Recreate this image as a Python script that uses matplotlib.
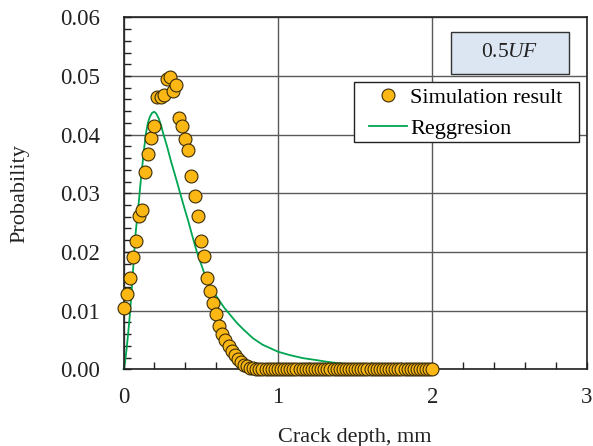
import matplotlib
matplotlib.use("Agg")
import matplotlib.pyplot as plt
from matplotlib.ticker import MultipleLocator, FixedLocator
from matplotlib.patches import Rectangle
from matplotlib.lines import Line2D

plt.rcParams['font.family'] = ['Liberation Serif', 'DejaVu Serif']
plt.rcParams['mathtext.fontset'] = 'custom'
plt.rcParams['mathtext.rm'] = 'Liberation Serif'
plt.rcParams['mathtext.it'] = 'Liberation Serif:italic'

# Simulation result: crack depth (mm) and probability
sim_x = [round(0.02 * i, 2) for i in range(101)]
sim_y = [0.0104, 0.0129, 0.0155, 0.0191, 0.0218, 0.0262, 0.0272, 0.0336, 0.0367, 0.0395,
         0.0415, 0.0464, 0.0464, 0.0468, 0.0495, 0.0499, 0.0474, 0.0485, 0.0429, 0.0415,
         0.0393, 0.0373, 0.0330, 0.0296, 0.0262, 0.0219, 0.0193, 0.0156, 0.0134, 0.0113,
         0.0094, 0.0074, 0.0061, 0.0050, 0.0039, 0.0031, 0.0024, 0.0018, 0.0012, 0.0008,
         0.0005, 0.0003, 0.0002, 0.0001, 0.0001] + [0.0] * 56

# Regression curve
reg_x = [0, 0.01, 0.02, 0.03, 0.04, 0.048, 0.056, 0.063, 0.07, 0.078, 0.089, 0.1, 0.11,
         0.121, 0.133, 0.145, 0.158, 0.17, 0.185, 0.198, 0.212, 0.229, 0.243, 0.257, 0.282,
         0.307, 0.337, 0.367, 0.393, 0.42, 0.447, 0.475, 0.507, 0.539, 0.58, 0.623, 0.655,
         0.69, 0.731, 0.776, 0.838, 0.9, 1.0, 1.08, 1.162, 1.24, 1.313, 1.4, 1.5, 1.6,
         1.7, 1.85, 2.0]
reg_y = [0, 0.0012, 0.0035, 0.0061, 0.0090, 0.0118, 0.0147, 0.0174, 0.0202, 0.0231, 0.0260,
         0.0288, 0.0317, 0.0345, 0.0375, 0.0402, 0.0420, 0.0430, 0.0437, 0.0439, 0.0436,
         0.0427, 0.0416, 0.0402, 0.0380, 0.0355, 0.0328, 0.0300, 0.0276, 0.0252, 0.0226,
         0.0200, 0.0176, 0.0152, 0.0133, 0.0116, 0.0104, 0.0093, 0.0080, 0.0068, 0.0053,
         0.0042, 0.0030, 0.0024, 0.0019, 0.0016, 0.0013, 0.0010, 0.0008, 0.0006, 0.0005,
         0.0004, 0.0003]

x_ticks = [0, 1, 2, 3]
x_tick_labels = ["0", "1", "2", "3"]
y_ticks = [0.00, 0.01, 0.02, 0.03, 0.04, 0.05, 0.06]
y_tick_labels = ["0.00", "0.01", "0.02", "0.03", "0.04", "0.05", "0.06"]

MFC = '#FBB714'
MEC = '#3A2C05'
LC = '#00A551'

fig = plt.figure(figsize=(5.93, 4.46), dpi=100)
ax = fig.add_axes([0.2083, 0.172, 0.7811, 0.7892])

ax.plot(reg_x, reg_y, color=LC, lw=1.3, zorder=2, clip_on=False)
ax.plot(sim_x, sim_y, linestyle='none', marker='o', markersize=9.3,
        markerfacecolor=MFC, markeredgecolor=MEC, markeredgewidth=0.8,
        zorder=3, clip_on=False)

ax.set_xlim(0, 3)
ax.set_ylim(0, 0.06)
ax.xaxis.set_major_locator(FixedLocator(x_ticks))
ax.set_xticklabels(x_tick_labels)
ax.yaxis.set_major_locator(FixedLocator(y_ticks))
ax.set_yticklabels(y_tick_labels)
ax.xaxis.set_minor_locator(MultipleLocator(0.2))
ax.yaxis.set_minor_locator(MultipleLocator(0.002))

ax.grid(True, which='major', color='#5a5a5a', lw=1.0, zorder=0)
ax.set_axisbelow(True)
ax.tick_params(which='both', direction='in', top=False, right=False, colors='#222222',
               labelsize=16.5, labelcolor='#222222')
ax.tick_params(which='major', length=5, width=1.0)
ax.tick_params(which='minor', length=5, width=1.0)
ax.tick_params(axis='y', which='major', pad=17)
ax.tick_params(axis='x', which='major', pad=13)
for s in ax.spines.values():
    s.set_color('#222222')
    s.set_linewidth(1.2)

ax.set_xlabel("Crack depth, mm", fontsize=16, color='#222222', labelpad=14)
ax.set_ylabel("Probability", fontsize=16, color='#222222', labelpad=22)

# Condition box
rect = Rectangle((0.707, 0.839), 0.254, 0.120, transform=ax.transAxes,
                 facecolor='#DCE6F2', edgecolor='#333333', lw=1.0, zorder=5)
ax.add_patch(rect)
ax.text(0.834, 0.899, r"0.5$\mathit{UF}$", transform=ax.transAxes, ha='center',
        va='center', fontsize=15.5, color='#222222', zorder=6)

# Legend frame
lrect = Rectangle((0.498, 0.647), 0.486, 0.170, transform=ax.transAxes,
                  facecolor='white', edgecolor='#222222', lw=1.0, zorder=5)
ax.add_patch(lrect)
handles = [Line2D([], [], linestyle='none', marker='o', markersize=9.3,
                  markerfacecolor=MFC, markeredgecolor=MEC, markeredgewidth=0.8),
           Line2D([], [], color=LC, lw=1.3)]
leg = ax.legend(handles, ["Simulation result", "Reggresion"], loc='upper left',
                bbox_to_anchor=(0.530, 0.800), borderaxespad=0, borderpad=0,
                fontsize=16, frameon=False, handlelength=1.7, handletextpad=0.15,
                labelspacing=0.45)
leg.set_zorder(6)

fig.savefig("out.png", dpi=100)
